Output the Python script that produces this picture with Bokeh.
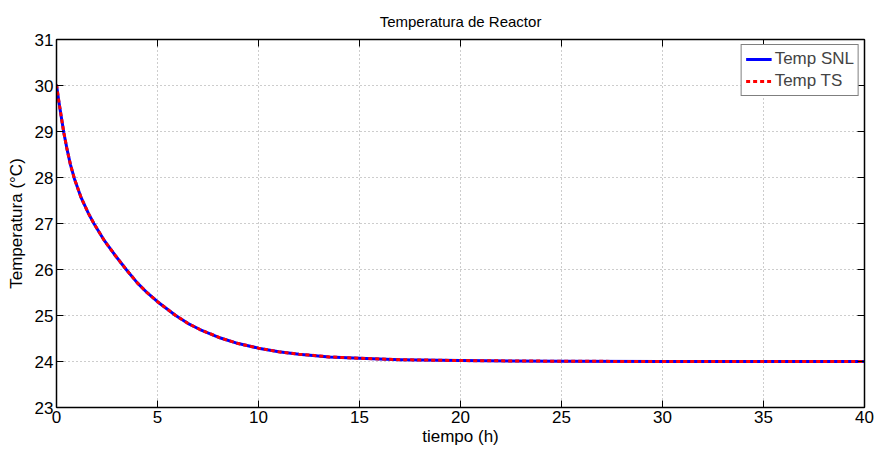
from bokeh.plotting import figure
from bokeh.models import FixedTicker, LinearAxis, Range1d, Legend, LegendItem
from bokeh.embed import file_html
from bokeh.resources import INLINE

# Data
tiempo = [0, 0.1, 0.2, 0.36, 0.51, 0.69, 0.89, 1.22, 1.58, 1.85, 2.38, 2.9, 3.45,
          4.0, 4.5, 5.0, 5.9, 6.5, 7.1, 8.12, 9, 10, 11, 12, 13.5, 15, 17, 20, 25, 30, 35, 40]
temp_snl = [30.02, 29.7, 29.42, 28.98, 28.64, 28.28, 27.97, 27.56, 27.22, 27.0, 26.62, 26.31, 26.0,
            25.71, 25.49, 25.3, 25.0, 24.83, 24.695, 24.51, 24.39, 24.29, 24.21, 24.16, 24.1,
            24.07, 24.04, 24.02, 24.005, 24.0, 24.0, 24.0]
temp_ts = [30.02, 29.7, 29.42, 28.98, 28.64, 28.28, 27.97, 27.56, 27.22, 27.0, 26.62, 26.31, 26.0,
           25.71, 25.49, 25.3, 25.0, 24.83, 24.695, 24.51, 24.39, 24.29, 24.21, 24.16, 24.1,
           24.07, 24.04, 24.02, 24.005, 24.0, 24.0, 24.0]
x_ticks = [0, 5, 10, 15, 20, 25, 30, 35, 40]
y_ticks = [23, 24, 25, 26, 27, 28, 29, 30, 31]

FONT = "Liberation Sans"

p = figure(width=877, height=453, output_backend="svg", toolbar_location=None,
           x_range=Range1d(0, 40), y_range=Range1d(23, 31),
           min_border_left=56, min_border_right=13, min_border_top=39, min_border_bottom=46,
           title="Temperatura de Reactor")
p.title.align = "center"
p.title.text_font = FONT
p.title.text_font_size = "15px"
p.title.text_font_style = "normal"
p.title.text_color = "black"
p.title.standoff = 20

p.outline_line_color = "black"
p.outline_line_width = 1
p.background_fill_color = "white"
p.border_fill_color = "white"

def style_axis(ax, ticks, labels=True):
    ax.ticker = FixedTicker(ticks=ticks)
    ax.axis_line_color = "black"
    ax.axis_line_width = 1.5
    ax.major_tick_in = 7
    ax.major_tick_out = 0
    ax.major_tick_line_color = "black"
    ax.minor_tick_line_color = None
    ax.major_label_text_font = FONT
    ax.major_label_text_color = "black"
    ax.major_label_text_font_size = "17px"
    if labels:
        ax.major_label_standoff = 3
    else:
        ax.major_label_overrides = {t: "" for t in ticks}
        ax.major_label_standoff = 0
    ax.axis_label_text_font = FONT
    ax.axis_label_text_font_size = "17px"
    ax.axis_label_text_font_style = "normal"
    ax.axis_label_text_color = "black"

style_axis(p.xaxis[0], x_ticks)
style_axis(p.yaxis[0], y_ticks)
p.xaxis[0].axis_label = "tiempo (h)"
p.xaxis[0].axis_label_standoff = 1
p.yaxis[0].axis_label = "Temperatura (°C)"
p.yaxis[0].axis_label_standoff = 6

top_ax = LinearAxis()
style_axis(top_ax, x_ticks, labels=False)
p.add_layout(top_ax, "above")
right_ax = LinearAxis()
style_axis(right_ax, y_ticks, labels=False)
p.add_layout(right_ax, "right")

for g in (p.xgrid[0], p.ygrid[0]):
    g.grid_line_color = "#9a9a9a"
    g.grid_line_dash = "1 3"
    g.grid_line_width = 1
p.xgrid[0].ticker = FixedTicker(ticks=x_ticks)
p.ygrid[0].ticker = FixedTicker(ticks=y_ticks)

r1 = p.line(tiempo, temp_snl, line_color="#0000ff", line_width=3, line_join="round")
r2 = p.line(tiempo, temp_ts, line_color="#ff0000", line_width=3, line_dash="4 3")

legend = Legend(items=[LegendItem(label="Temp SNL", renderers=[r1]),
                       LegendItem(label="Temp TS", renderers=[r2])],
                location="top_right")
legend.margin = 5
legend.padding = 4
legend.spacing = 2
legend.glyph_width = 26
legend.glyph_height = 20
legend.label_standoff = 3
legend.label_text_font = FONT
legend.label_text_font_size = "17px"
legend.label_height = 20
legend.border_line_color = "black"
legend.border_line_width = 1
legend.background_fill_alpha = 1
p.add_layout(legend, "center")

open("out.html", "w").write(file_html(p, INLINE))
